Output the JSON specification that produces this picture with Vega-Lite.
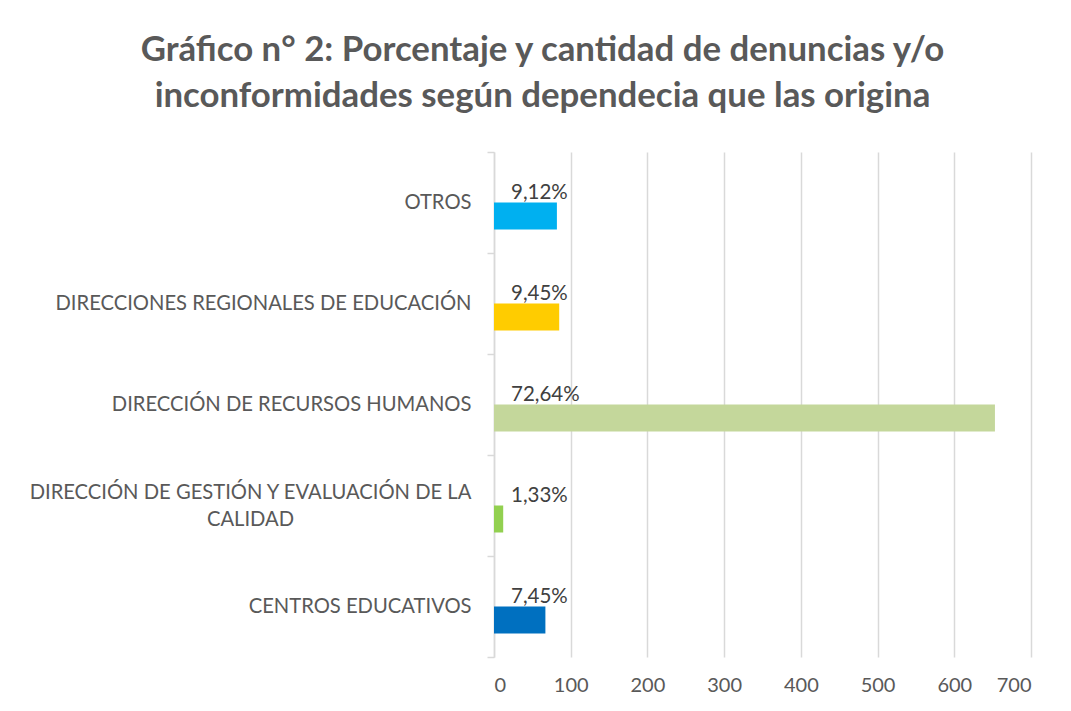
{
  "$schema": "https://vega.github.io/schema/vega-lite/v6.json",
  "width": 537,
  "height": 505,
  "autosize": "none",
  "padding": {"left": 494, "top": 152, "right": 40, "bottom": 54},
  "background": "white",
  "title": {
    "text": ["Gráfico n° 2: Porcentaje y cantidad de denuncias y/o", "inconformidades según dependecia que las origina"],
    "anchor": "middle",
    "frame": "group",
    "dx": -220,
    "offset": 27,
    "font": "Lato",
    "fontSize": 34.8,
    "fontWeight": "bold",
    "color": "#595959",
    "lineHeight": 46
  },
  "data": {
    "values": [
      {"dependencia": "OTROS", "cantidad": 82, "porcentaje": "9,12%"},
      {"dependencia": "DIRECCIONES REGIONALES DE EDUCACIÓN", "cantidad": 85, "porcentaje": "9,45%"},
      {"dependencia": "DIRECCIÓN DE RECURSOS HUMANOS", "cantidad": 653, "porcentaje": "72,64%"},
      {"dependencia": "DIRECCIÓN DE GESTIÓN Y EVALUACIÓN DE LA CALIDAD", "cantidad": 12, "porcentaje": "1,33%"},
      {"dependencia": "CENTROS EDUCATIVOS", "cantidad": 67, "porcentaje": "7,45%"}
    ]
  },
  "encoding": {
    "y": {
      "field": "dependencia",
      "type": "nominal",
      "sort": null,
      "scale": {"paddingInner": 0, "paddingOuter": 0},
      "axis": {
        "title": null,
        "domainColor": "#D9D9D9",
        "domainWidth": 1.5,
        "tickColor": "#D9D9D9",
        "tickWidth": 1.5,
        "tickSize": 7,
        "tickBand": "extent",
        "labelFont": "Lato",
        "labelFontSize": 20.2,
        "labelColor": "#595959",
        "labelPadding": {"condition": {"test": "datum.value == 'DIRECCIÓN DE GESTIÓN Y EVALUACIÓN DE LA CALIDAD'", "value": 237}, "value": 16},
        "labelAlign": {"condition": {"test": "datum.value == 'DIRECCIÓN DE GESTIÓN Y EVALUACIÓN DE LA CALIDAD'", "value": "center"}, "value": "right"},
        "labelLimit": 500,
        "labelLineHeight": 27,
        "labelOffset": {"condition": {"test": "datum.value == 'DIRECCIÓN DE GESTIÓN Y EVALUACIÓN DE LA CALIDAD'", "value": -13}, "value": 0},
        "labelExpr": "datum.value == 'DIRECCIÓN DE GESTIÓN Y EVALUACIÓN DE LA CALIDAD' ? ['DIRECCIÓN DE GESTIÓN Y EVALUACIÓN DE LA', 'CALIDAD'] : datum.value"
      }
    },
    "x": {
      "field": "cantidad",
      "type": "quantitative",
      "scale": {"domain": [0, 700], "nice": false},
      "axis": {
        "title": null,
        "values": [0, 100, 200, 300, 400, 500, 600, 700],
        "domain": false,
        "ticks": false,
        "grid": true,
        "gridColor": "#D9D9D9",
        "gridWidth": 1.5,
        "labelFont": "Lato",
        "labelFontSize": 20,
        "labelColor": "#595959",
        "labelPadding": 18
      }
    }
  },
  "layer": [
    {
      "mark": {"type": "bar", "height": 27, "yOffset": 13.5},
      "encoding": {
        "color": {
          "field": "dependencia",
          "type": "nominal",
          "legend": null,
          "scale": {
            "domain": ["OTROS", "DIRECCIONES REGIONALES DE EDUCACIÓN", "DIRECCIÓN DE RECURSOS HUMANOS", "DIRECCIÓN DE GESTIÓN Y EVALUACIÓN DE LA CALIDAD", "CENTROS EDUCATIVOS"],
            "range": ["#00B0F0", "#FFCC00", "#C4D79B", "#92D050", "#0070C0"]
          }
        }
      }
    },
    {
      "mark": {"type": "text", "align": "left", "baseline": "alphabetic", "dx": 17, "dy": -4, "font": "Lato", "fontSize": 20.5, "color": "#404040"},
      "encoding": {
        "x": {"datum": 0, "type": "quantitative"},
        "text": {"field": "porcentaje"}
      }
    }
  ],
  "config": {"view": {"stroke": null}}
}
